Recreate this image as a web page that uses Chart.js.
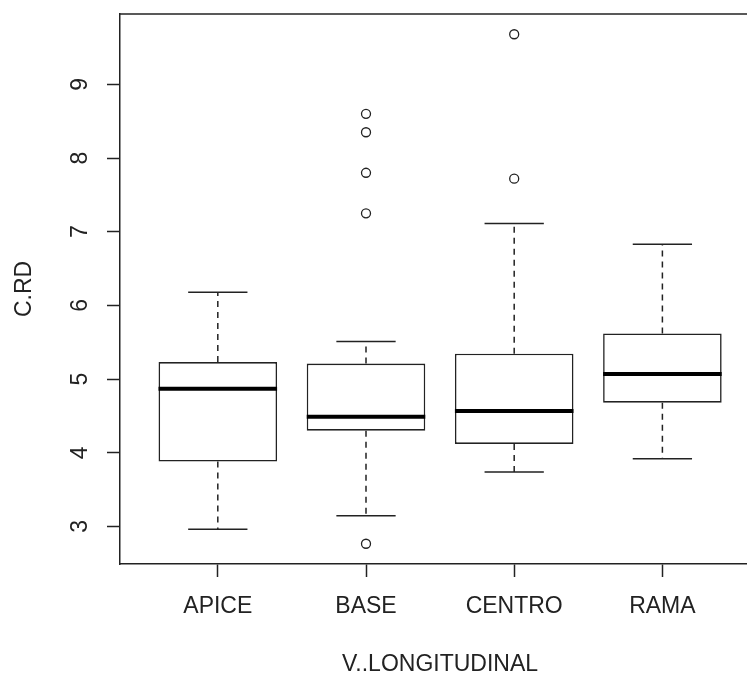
<!DOCTYPE html>
<html>
<head>
<meta charset="utf-8">
<script src="https://cdn.jsdelivr.net/npm/chart.js@4"></script>
<style>
  html, body { margin: 0; padding: 0; background: #fff; overflow: hidden; }
  canvas { display: block; }
</style>
</head>
<body>
<canvas id="boxChart" width="766" height="674"></canvas>
<script>
// Five-number summaries for each longitudinal position
const categories = ["APICE", "BASE", "CENTRO", "RAMA"];
const lowerWhisker = [2.96, 3.145, 3.74, 3.92];
const lowerQuartile = [3.88, 4.30, 4.12, 4.68];
const medians = [4.87, 4.49, 4.565, 5.07];
const upperQuartile = [5.23, 5.21, 5.345, 5.62];
const upperWhisker = [6.18, 5.51, 7.11, 6.83];

// Outlying points, by group index
const outlierGroup = [2, 2, 2, 2, 2, 3, 3];
const outlierValue = [8.60, 8.35, 7.80, 7.25, 2.765, 9.68, 7.72];

const yTicks = [3, 4, 5, 6, 7, 8, 9];

const ink = "#222";
const font = { family: "'Liberation Sans', Arial, sans-serif", size: 23 };

const boxData = categories.map((c, i) => ({ x: i + 1, y: [lowerQuartile[i], upperQuartile[i]] }));
const outlierData = outlierValue.map((v, i) => ({ x: outlierGroup[i], y: v }));

// whiskers, staples, medians and the top of the frame
const boxExtras = {
  id: "boxExtras",
  afterDatasetsDraw(chart) {
    const { ctx, chartArea, scales: { x, y } } = chart;
    ctx.save();
    ctx.strokeStyle = ink;
    categories.forEach((c, i) => {
      const xc = x.getPixelForValue(i + 1);
      const cap = x.getPixelForValue(i + 1.2) - xc;
      const half = x.getPixelForValue(i + 1.4) - xc;

      ctx.lineWidth = 1.5;
      ctx.setLineDash([6, 5]);
      ctx.beginPath();
      ctx.moveTo(xc, y.getPixelForValue(upperQuartile[i]));
      ctx.lineTo(xc, y.getPixelForValue(upperWhisker[i]));
      ctx.moveTo(xc, y.getPixelForValue(lowerQuartile[i]));
      ctx.lineTo(xc, y.getPixelForValue(lowerWhisker[i]));
      ctx.stroke();

      ctx.setLineDash([]);
      ctx.beginPath();
      [upperWhisker[i], lowerWhisker[i]].forEach((v) => {
        const py = y.getPixelForValue(v);
        ctx.moveTo(xc - cap, py);
        ctx.lineTo(xc + cap, py);
      });
      ctx.stroke();

      ctx.lineWidth = 4;
      ctx.strokeStyle = "#000";
      ctx.beginPath();
      const my = y.getPixelForValue(medians[i]);
      ctx.moveTo(xc - half, my);
      ctx.lineTo(xc + half, my);
      ctx.stroke();
      ctx.strokeStyle = ink;
    });

    ctx.lineWidth = 1.5;
    ctx.beginPath();
    ctx.moveTo(chartArea.left, chartArea.top);
    ctx.lineTo(chartArea.right, chartArea.top);
    ctx.stroke();
    ctx.restore();
  },
};

const ctx = document.getElementById("boxChart").getContext("2d");

new Chart(ctx, {
  type: "bar",
  data: {
    datasets: [
      {
        label: "box",
        data: boxData,
        backgroundColor: "#fff",
        borderColor: ink,
        borderWidth: 1.6,
        borderSkipped: false,
        categoryPercentage: 1,
        barPercentage: 0.8,
      },
      {
        type: "scatter",
        label: "outliers",
        data: outlierData,
        pointStyle: "circle",
        pointRadius: 4.5,
        pointBorderWidth: 1.3,
        pointBorderColor: ink,
        pointBackgroundColor: "rgba(255,255,255,0)",
      },
    ],
  },
  options: {
    responsive: false,
    animation: false,
    layout: { padding: { top: 14, left: 0, right: 0, bottom: 0 } },
    plugins: { legend: { display: false }, tooltip: { enabled: false } },
    scales: {
      x: {
        type: "linear",
        min: 0.34,
        max: 4.66,
        offset: false,
        afterBuildTicks: (scale) => {
          scale.ticks = categories.map((c, i) => ({ value: i + 1 }));
        },
        afterFit: (scale) => {
          scale.height = 110;
          scale.paddingLeft = 0;
          scale.paddingRight = 0;
        },
        ticks: {
          callback: (v) => categories[v - 1],
          color: ink,
          font: font,
          padding: 16,
          maxRotation: 0,
          autoSkip: false,
        },
        grid: { offset: false, drawOnChartArea: false, tickLength: 13, tickColor: ink, tickWidth: 1.5 },
        border: { display: true, color: ink, width: 1.5 },
        title: {
          display: true,
          text: "V..LONGITUDINAL",
          color: ink,
          font: { ...font, lineHeight: 0.83 },
          padding: { top: 0, bottom: 0 },
        },
      },
      y: {
        min: 2.49,
        max: 9.955,
        afterBuildTicks: (scale) => {
          scale.ticks = yTicks.map((v) => ({ value: v }));
        },
        afterFit: (scale) => {
          scale.width = 120;
          scale.paddingTop = 0;
          scale.paddingBottom = 0;
        },
        ticks: {
          color: ink,
          font: font,
          minRotation: 90,
          maxRotation: 90,
          crossAlign: "center",
          padding: 20,
          autoSkip: false,
        },
        grid: { drawOnChartArea: false, tickLength: 13, tickColor: ink, tickWidth: 1.5 },
        border: { display: true, color: ink, width: 1.5 },
        title: {
          display: true,
          text: "C.RD",
          color: ink,
          font: { ...font, lineHeight: 1 },
          padding: { top: 13, bottom: 0 },
        },
      },
    },
  },
  plugins: [boxExtras],
});
</script>
</body>
</html>
